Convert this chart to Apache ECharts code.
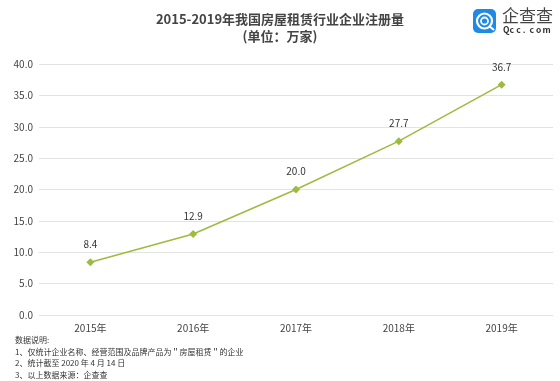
<!DOCTYPE html>
<html><head><meta charset="utf-8">
<script src="https://cdn.jsdelivr.net/npm/echarts@6/dist/echarts.min.js"></script>
<style>html,body{margin:0;padding:0;background:#fff}#c{width:560px;height:381px}</style>
</head><body><div id="c"></div>
<script>
const categories = ['2015年','2016年','2017年','2018年','2019年'];
const values = [8.4, 12.9, 20.0, 27.7, 36.7];
const yTicks = {min: 0, max: 40, interval: 5};
const titleText = '2015-2019年我国房屋租赁行业企业注册量';
const subtitleText = '(单位：万家)';
const notes = ['数据说明:', '1、仅统计企业名称、经营范围及品牌产品为＂房屋租赁＂的企业', '2、统计截至 2020 年 4 月 14 日', '3、以上数据来源：企查查'];
const logoName = '企查查';
const logoSite = 'Qcc.com';

const font = '"Noto Sans CJK SC", "Noto Sans", sans-serif';
const chart = echarts.init(document.getElementById('c'), null, {renderer: 'canvas'});
const noteGraphics = notes.map((t, i) => ({
  type: 'text', left: 15, top: 336 + i * 11.5,
  style: {text: t, fill: '#333', font: '8px ' + font}
}));
const siteGraphics = logoSite.split('').map((ch, i) => ({
  type: 'text', left: 503 + i * 6.6, top: 26,
  style: {text: ch, fill: '#333', font: 'bold 8.5px ' + font}
}));
chart.setOption({
  animation: false,
  textStyle: {fontFamily: font},
  title: {
    text: titleText, subtext: subtitleText, left: 'center', top: 8, itemGap: 4,
    textStyle: {fontSize: 13, fontWeight: 'bold', color: '#444', fontFamily: font},
    subtextStyle: {fontSize: 13, fontWeight: 'bold', color: '#444', fontFamily: font}
  },
  grid: {left: 39, right: 7, top: 64, bottom: 66},
  xAxis: {
    type: 'category', data: categories, boundaryGap: true,
    axisLine: {show: false}, axisTick: {show: false},
    axisLabel: {color: '#444', fontSize: 10, margin: 8}
  },
  yAxis: {
    type: 'value', min: yTicks.min, max: yTicks.max, interval: yTicks.interval,
    axisLine: {show: false}, axisTick: {show: false},
    axisLabel: {color: '#444', fontSize: 10, formatter: v => v.toFixed(1), margin: 6},
    splitLine: {lineStyle: {color: '#e3e3e3', width: 1}}
  },
  series: [{
    type: 'line', data: values, symbol: 'diamond', symbolSize: 8,
    lineStyle: {color: '#9dbb3f', width: 1.5},
    itemStyle: {color: '#9dbb3f'},
    label: {show: true, position: 'top', distance: 9, color: '#333', fontSize: 10, formatter: p => p.value.toFixed(1)}
  }],
  graphic: [
    {type: 'rect', shape: {x: 473, y: 9, width: 23, height: 24, r: 5}, style: {fill: '#1e8ae6'}},
    {type: 'circle', shape: {cx: 484.5, cy: 21, r: 7.5}, style: {fill: 'none', stroke: '#fff', lineWidth: 2.2}},
    {type: 'circle', shape: {cx: 484.5, cy: 21, r: 3.5}, style: {fill: 'none', stroke: '#fff', lineWidth: 1.8}},
    {type: 'line', shape: {x1: 489, y1: 26, x2: 494, y2: 30}, style: {stroke: '#fff', lineWidth: 2.2}},
    {type: 'text', left: 502, top: 7, style: {text: logoName, fill: '#444', font: '17px ' + font}}
  ].concat(siteGraphics, noteGraphics)
});
</script></body></html>
